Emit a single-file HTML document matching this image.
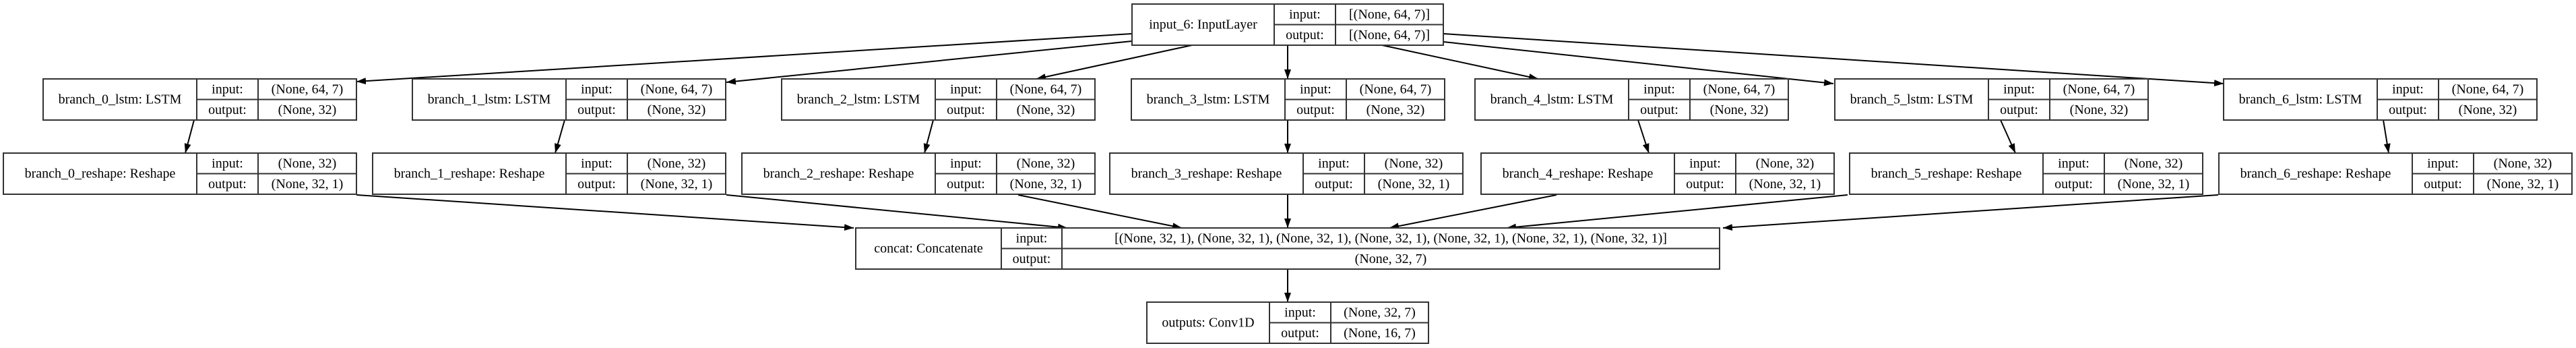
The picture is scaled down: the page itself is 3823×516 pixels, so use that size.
<!DOCTYPE html>
<html><head><meta charset="utf-8"><style>
html,body{margin:0;padding:0;background:#fff;}
svg{display:block;}
text{font-family:"Liberation Serif",serif;font-size:20px;fill:#000;}
</style></head><body>
<svg id="g" width="3823" height="516" viewBox="0 0 3823 516">
<defs><marker id="ah" markerWidth="14" markerHeight="10" refX="14" refY="5" orient="auto" markerUnits="userSpaceOnUse"><path d="M0,0 L14,5 L0,10 z" fill="#000"/></marker></defs>
</svg>
<script>
const NS='http://www.w3.org/2000/svg';
const svg=document.getElementById('g');
const H=61;
const layers=[
 ['input-layer-node','input_6: InputLayer',1680,6,462,211,302,'[(None, 64, 7)]','[(None, 64, 7)]']
];
const lstmX=[64,612,1160,1679,2189,2723,3300];
const reshX=[5,553,1101,1647,2198,2745,3293];
for(let i=0;i<7;i++){
 layers.push(['branch-'+i+'-lstm-node','branch_'+i+'_lstm: LSTM',lstmX[i],117,465,228,319,'(None, 64, 7)','(None, 32)']);
}
for(let i=0;i<7;i++){
 layers.push(['branch-'+i+'-reshape-node','branch_'+i+'_reshape: Reshape',reshX[i],227,524,287,378,'(None, 32)','(None, 32, 1)']);
}
layers.push(['concat-node','concat: Concatenate',1270,338,1282,216,306,'[(None, 32, 1), (None, 32, 1), (None, 32, 1), (None, 32, 1), (None, 32, 1), (None, 32, 1), (None, 32, 1)]','(None, 32, 7)']);
layers.push(['outputs-node','outputs: Conv1D',1702,448,418,182,273,'(None, 32, 7)','(None, 16, 7)']);

const edges=[
 [1680,50,529,121],[1680,61,1078,122],[1769,67,1538,117],[1911,67,1911,117],
 [2051,67,2283,117],[2142,62,2721,124],[2142,50,3300,124],
 [288,178,275,227],[838,178,824,227],[1385,178,1372,227],[1911,178,1911,227],
 [2431,178,2447,227],[2969,178,2991,227],[3537,178,3545,227],
 [529,289,1267,338],[1078,289,1584,338],[1511,289,1754,338],[1911,289,1911,338],
 [2310,289,2062,338],[2742,289,2236,338],[3292,289,2557,338],
 [1911,399,1911,448]
];
edges.forEach((e,i)=>{
 const l=document.createElementNS(NS,'line');
 l.setAttribute('x1',e[0]);l.setAttribute('y1',e[1]);l.setAttribute('x2',e[2]);l.setAttribute('y2',e[3]);
 l.setAttribute('stroke','#000');l.setAttribute('stroke-width','2');l.setAttribute('marker-end','url(#ah)');
 
 
 svg.appendChild(l);
});
function txt(g,x,y,s,name){
 const t=document.createElementNS(NS,'text');
 t.setAttribute('x',x);t.setAttribute('y',y);t.setAttribute('text-anchor','middle');t.setAttribute('dominant-baseline','central');
 t.textContent=s;
 
 
 g.appendChild(t);
}
layers.forEach(L=>{
 const [name,label,x,y,w,d1,d2,inp,out]=L;
 const g=document.createElementNS(NS,'g');
 
 
 const r=document.createElementNS(NS,'rect');
 r.setAttribute('x',x);r.setAttribute('y',y);r.setAttribute('width',w);r.setAttribute('height',H);
 r.setAttribute('fill','#fff');r.setAttribute('stroke','#333');r.setAttribute('stroke-width','2');
 
 
 g.appendChild(r);
 const p=document.createElementNS(NS,'path');
 p.setAttribute('d',`M${x+d1},${y}V${y+H}M${x+d2},${y}V${y+H}M${x+d1},${y+H/2}H${x+w}`);
 p.setAttribute('stroke','#333');p.setAttribute('stroke-width','2');p.setAttribute('fill','none');
 
 
 g.appendChild(p);
 txt(g,x+d1/2,y+H/2,label,'node-label');
 txt(g,x+(d1+d2)/2,y+H/4,'input:','input-label');
 txt(g,x+(d1+d2)/2,y+3*H/4,'output:','output-label');
 txt(g,x+(d2+w)/2,y+H/4,inp,'input-shape');
 txt(g,x+(d2+w)/2,y+3*H/4,out,'output-shape');
 svg.appendChild(g);
});
</script>
</body></html>
